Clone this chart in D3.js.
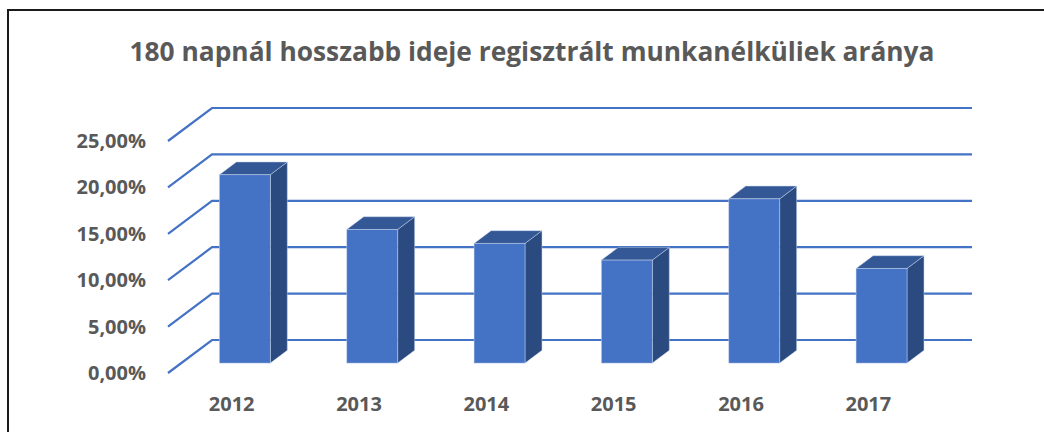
<!DOCTYPE html>
<html>
<head>
<meta charset="utf-8">
<script src="https://d3js.org/d3.v7.min.js"></script>
<style>
  body { margin: 0; background: #fff; }
  text { font-family: "Open Sans", "Noto Sans", sans-serif; font-weight: bold; fill: #595959; }
</style>
</head>
<body>
<script>
// data
const years = ["2012", "2013", "2014", "2015", "2016", "2017"];
const rates = [0.203, 0.144, 0.129, 0.111, 0.177, 0.102];
const yTicks = [0, 0.05, 0.10, 0.15, 0.20, 0.25];
const title = "180 napnál hosszabb ideje regisztrált munkanélküliek aránya";

const W = 1044, H = 432;

// floor front edge and depth vector of the 3D box
const floorLeft = 168, floorRight = 932, floorY = 373;
const wallRight = 972;
const depth = {dx: 44, dy: -33};
const barFront = 0.3, barDepth = 0.386;

const svg = d3.select("body").append("svg")
  .attr("width", W)
  .attr("height", H);

// outer frame (top and left edges visible)
svg.append("path")
  .attr("d", "M8,432 L8,10 L1044,10")
  .attr("fill", "none")
  .attr("stroke", "#1a1a1a")
  .attr("stroke-width", 2);

svg.append("text")
  .attr("x", 532)
  .attr("y", 61)
  .attr("text-anchor", "middle")
  .attr("font-size", 27)
  .attr("textLength", 805)
  .attr("lengthAdjust", "spacingAndGlyphs")
  .text(title);

const x = d3.scaleBand()
  .domain(years)
  .range([floorLeft, floorRight])
  .paddingInner(0.6)
  .paddingOuter(0.3);

const y = d3.scaleLinear()
  .domain([0, 0.25])
  .range([floorY, floorY - 232]);

const locale = d3.formatLocale({decimal: ",", thousands: " ", grouping: [3], currency: ["", ""]});
const pct = locale.format(".2%");

// gridlines: side wall diagonal + back wall line
svg.append("g")
  .selectAll("path")
  .data(yTicks)
  .join("path")
  .attr("d", d => {
    const y0 = y(d);
    return "M" + floorLeft + "," + y0 +
      " L" + (floorLeft + depth.dx) + "," + (y0 + depth.dy) +
      " L" + wallRight + "," + (y0 + depth.dy);
  })
  .attr("fill", "none")
  .attr("stroke", "#4472C4")
  .attr("stroke-width", 2.2);

// y axis labels
const yAxis = svg.append("g")
  .attr("transform", "translate(" + (floorLeft - 22) + ",0)")
  .call(d3.axisLeft(y).tickValues(yTicks).tickSize(0).tickPadding(0).tickFormat(pct));
yAxis.select(".domain").remove();
yAxis.selectAll("text")
  .attr("font-size", 20)
  .attr("font-family", null)
  .attr("fill", "#595959");

// bars
const fx = barFront * depth.dx, fy = barFront * depth.dy;
const bx = barDepth * depth.dx, by = barDepth * depth.dy;

const bars = svg.append("g")
  .selectAll("g")
  .data(years.map((yr, i) => ({year: yr, value: rates[i]})))
  .join("g");

bars.append("path") // side
  .attr("d", d => {
    const x1 = x(d.year) + x.bandwidth() + fx, yt = y(d.value) + fy, yb = y(0) + fy;
    return "M" + x1 + "," + yb + " L" + x1 + "," + yt +
      " L" + (x1 + bx) + "," + (yt + by) + " L" + (x1 + bx) + "," + (yb + by) + "Z";
  })
  .attr("fill", "#2B4A80")
  .attr("stroke", "#c9d6ee")
  .attr("stroke-opacity", 0.6)
  .attr("stroke-width", 0.8);

bars.append("path") // top
  .attr("d", d => {
    const x0 = x(d.year) + fx, x1 = x0 + x.bandwidth(), yt = y(d.value) + fy;
    return "M" + x0 + "," + yt + " L" + x1 + "," + yt +
      " L" + (x1 + bx) + "," + (yt + by) + " L" + (x0 + bx) + "," + (yt + by) + "Z";
  })
  .attr("fill", "#335895")
  .attr("stroke", "#c9d6ee")
  .attr("stroke-opacity", 0.6)
  .attr("stroke-width", 0.8);

bars.append("rect") // front
  .attr("x", d => x(d.year) + fx)
  .attr("y", d => y(d.value) + fy)
  .attr("width", x.bandwidth())
  .attr("height", d => y(0) - y(d.value))
  .attr("fill", "#4472C4")
  .attr("stroke", "#c9d6ee")
  .attr("stroke-opacity", 0.6)
  .attr("stroke-width", 0.8);

// category labels
svg.append("g")
  .selectAll("text")
  .data(years)
  .join("text")
  .attr("x", d => x(d) + x.bandwidth() / 2)
  .attr("y", 411)
  .attr("text-anchor", "middle")
  .attr("font-size", 20)
  .text(d => d);
</script>
</body>
</html>
